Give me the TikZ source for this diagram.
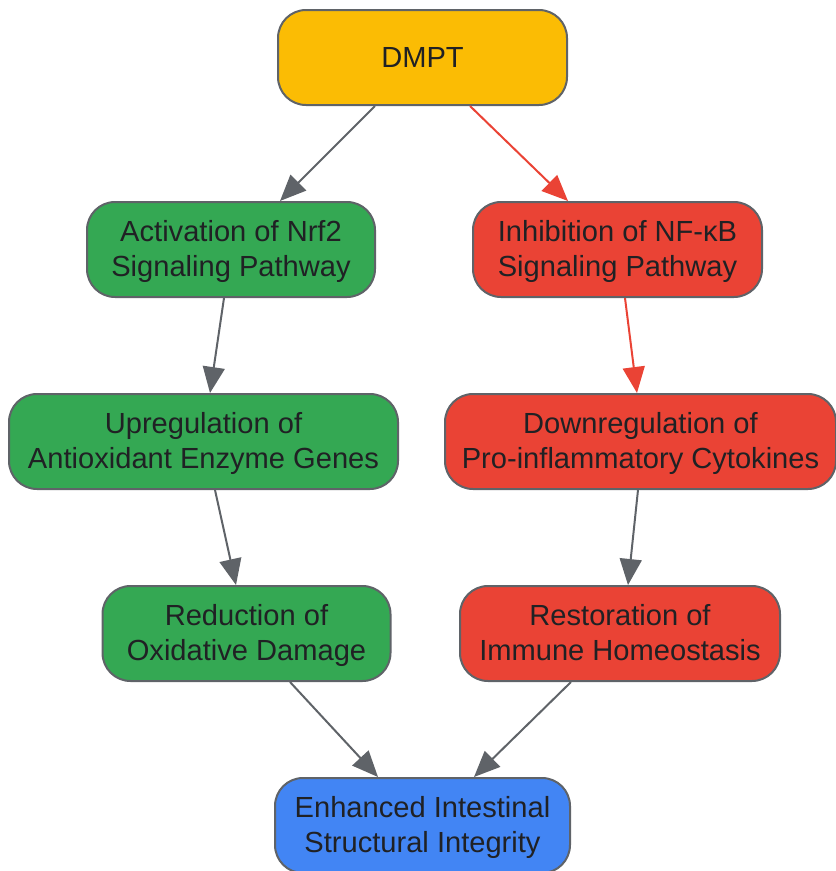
\documentclass[tikz,border=0pt]{standalone}
\usepackage{fontspec}
\setmainfont{Liberation Sans}
\usetikzlibrary{arrows.meta}
\definecolor{cyellow}{HTML}{FBBC04}
\definecolor{cgreen}{HTML}{34A853}
\definecolor{cred}{HTML}{EA4335}
\definecolor{cblue}{HTML}{4285F4}
\definecolor{cborder}{HTML}{5F6368}
\definecolor{ctext}{HTML}{202124}
\newcommand{\twol}[2]{\raisebox{-2.3pt}[\height][\depth]{\begin{tabular}{@{}c@{}}#1\\#2\end{tabular}}}
\tikzset{
  box/.style={draw=cborder, line width=2pt, rounded corners=28pt,
    minimum height=95pt, inner sep=0pt, text=ctext,
    font=\fontsize{29.1}{35.5}\selectfont},
  conn/.style={draw=cborder, fill=cborder, line width=2pt, -{Triangle[length=26pt,width=22pt]}},
  redconn/.style={conn, draw=cred, fill=cred}
}
\begin{document}
\begin{tikzpicture}[x=1pt,y=-1pt]
\useasboundingbox (0,0) rectangle (836,871);
\node[box, fill=cyellow, minimum width=289pt] (dmpt) at (422.5,57.5) {DMPT};
\node[box, fill=cgreen, minimum width=288pt] (nrf) at (231,249.5) {\twol{Activation of Nrf2}{Signaling Pathway}};
\node[box, fill=cred, minimum width=289pt] (nfkb) at (617.5,249.5) {\twol{Inhibition of NF-κB}{Signaling Pathway}};
\node[box, fill=cgreen, minimum width=389pt] (upr) at (203.5,441.5) {\twol{Upregulation of}{Antioxidant Enzyme Genes}};
\node[box, fill=cred, minimum width=391pt] (down) at (640.5,441.5) {\twol{Downregulation of}{Pro-inflammatory Cytokines}};
\node[box, fill=cgreen, minimum width=288pt] (red) at (246.5,633.5) {\twol{Reduction of}{Oxidative Damage}};
\node[box, fill=cred, minimum width=320pt] (rest) at (620,633.5) {\twol{Restoration of}{Immune Homeostasis}};
\node[box, fill=cblue, minimum width=295pt] (enh) at (422.5,825.5) {\twol{Enhanced Intestinal}{Structural Integrity}};
\draw[conn] ([xshift=-47.5pt]dmpt.south) -- ([xshift=49pt]nrf.north);
\draw[redconn] ([xshift=47.5pt]dmpt.south) -- ([xshift=-49.5pt]nfkb.north);
\draw[conn] ([xshift=-7pt]nrf.south) -- ([xshift=6.5pt]upr.north);
\draw[conn] ([xshift=11.5pt]upr.south) -- ([xshift=-10.5pt]red.north);
\draw[redconn] ([xshift=7.5pt]nfkb.south) -- ([xshift=-3.5pt]down.north);
\draw[conn] ([xshift=-2.5pt]down.south) -- ([xshift=8pt]rest.north);
\draw[conn] ([xshift=43.5pt]red.south) -- ([xshift=-44.5pt]enh.north);
\draw[conn] ([xshift=-49pt]rest.south) -- ([xshift=51.5pt]enh.north);
\end{tikzpicture}
\end{document}
